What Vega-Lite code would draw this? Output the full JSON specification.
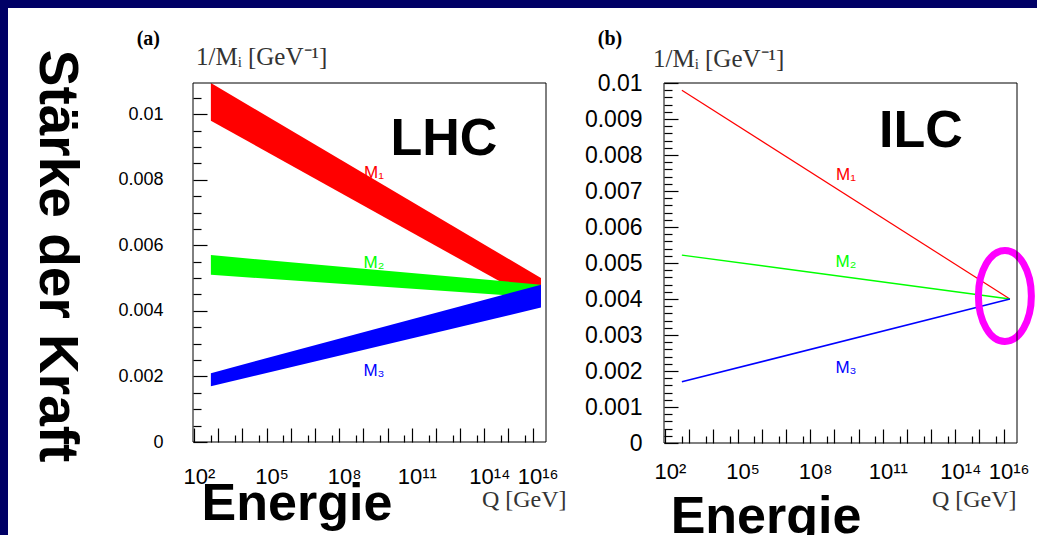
{
  "$schema": "https://vega.github.io/schema/vega-lite/v6.json",
  "autosize": "none",
  "width": 1029,
  "height": 527,
  "padding": {"left": 8, "top": 8, "right": 0, "bottom": 0},
  "background": "#000066",
  "config": {"view": {"fill": "white", "stroke": null}},
  "resolve": {"scale": {"x": "independent", "y": "independent"}},
  "layer": [
    {
      "resolve": {"scale": {"x": "independent", "y": "independent"}},
      "layer": [
        {
          "layer": [
            {
              "data": {"values": [
                {"series": "M1", "Q": 500, "lo": 0.0098, "hi": 0.01095},
                {"series": "M1", "Q": 2.2e16, "lo": 0.0042, "hi": 0.005},
                {"series": "M2", "Q": 500, "lo": 0.0051, "hi": 0.0057},
                {"series": "M2", "Q": 2.2e16, "lo": 0.0044, "hi": 0.0048},
                {"series": "M3", "Q": 500, "lo": 0.0017, "hi": 0.0021},
                {"series": "M3", "Q": 2.2e16, "lo": 0.0041, "hi": 0.0048}
              ]},
              "mark": {"type": "area", "opacity": 1},
              "encoding": {
                "x": {"field": "Q", "type": "quantitative",
                  "scale": {"type": "log", "domain": [91.2, 3.548e16], "range": [185, 538], "nice": false},
                  "axis": {"orient": "bottom", "offset": -93, "domain": false, "grid": false, "title": null, "zindex": 1,
                    "values": [100, 1000, 10000, 1e5, 1e6, 1e7, 1e8, 1e9, 1e10, 1e11, 1e12, 1e13, 1e14, 1e15, 1e16],
                    "tickSize": -14, "tickColor": "black", "tickWidth": 1.2,
                    "labelExpr": "round(log(datum.value)/LN10) == 2 ? '10²' : round(log(datum.value)/LN10) == 5 ? '10⁵' : round(log(datum.value)/LN10) == 8 ? '10⁸' : round(log(datum.value)/LN10) == 11 ? '10¹¹' : round(log(datum.value)/LN10) == 14 ? '10¹⁴' : round(log(datum.value)/LN10) == 16 ? '10¹⁶' : ''",
                    "labelFont": "Liberation Sans", "labelFontSize": 22, "labelColor": "black",
                    "labelBaseline": "alphabetic", "labelPadding": 55, "labelOffset": 5,
                    "labelFlush": false, "labelOverlap": false, "labelBound": false}},
                "y": {"field": "hi", "type": "quantitative",
                  "scale": {"domain": [0, 0.01095], "range": [434, 75], "nice": false, "zero": false},
                  "axis": {"orient": "left", "offset": -185, "domain": false, "grid": false, "title": null, "zindex": 1,
                    "values": [0, 0.002, 0.004, 0.006, 0.008, 0.01],
                    "tickSize": -14, "tickColor": "black", "tickWidth": 1.2,
                    "format": "~g",
                    "labelFont": "Liberation Sans", "labelFontSize": 18, "labelColor": "black",
                    "labelBaseline": "middle", "labelPadding": 44,
                    "labelFlush": false, "labelOverlap": false, "labelBound": false}},
                "y2": {"field": "lo"},
                "color": {"field": "series", "type": "nominal",
                  "scale": {"domain": ["M1", "M2", "M3"], "range": ["#ff0000", "#00ff00", "#0000ff"]}, "legend": null}
              }
            },
            {
              "data": {"values": [{}]},
              "mark": {"type": "text", "text": "Stärke der Kraft", "font": "Liberation Sans", "fontSize": 55, "fontWeight": "bold", "angle": 90, "align": "center", "baseline": "alphabetic", "fill": "black"},
              "encoding": {"x": {"datum": 4.35e-5}, "y": {"datum": 0.005671}}
            },
            {
              "data": {"values": [{}]},
              "mark": {"type": "text", "text": "(a)", "font": "Liberation Serif", "fontSize": 20, "fontWeight": "bold", "align": "center", "baseline": "alphabetic", "fill": "black"},
              "encoding": {"x": {"datum": 1.3}, "y": {"datum": 0.012104}}
            },
            {
              "data": {"values": [{}]},
              "mark": {"type": "text", "text": "1/Mᵢ [GeV⁻¹]", "font": "Liberation Serif", "fontSize": 25, "align": "left", "baseline": "alphabetic", "fill": "#333333"},
              "encoding": {"x": {"datum": 121}, "y": {"datum": 0.011494}}
            },
            {
              "data": {"values": [{}]},
              "mark": {"type": "text", "text": "LHC", "font": "Liberation Sans", "fontSize": 52, "fontWeight": "bold", "align": "center", "baseline": "alphabetic", "fill": "black"},
              "encoding": {"x": {"datum": 2.15e12}, "y": {"datum": 0.00875}}
            },
            {
              "data": {"values": [{}]},
              "mark": {"type": "text", "text": "M₁", "font": "Liberation Sans", "fontSize": 17, "align": "center", "baseline": "alphabetic", "fill": "#ff0000"},
              "encoding": {"x": {"datum": 2.75e9}, "y": {"datum": 0.00805}}
            },
            {
              "data": {"values": [{}]},
              "mark": {"type": "text", "text": "M₂", "font": "Liberation Sans", "fontSize": 17, "align": "center", "baseline": "alphabetic", "fill": "#00ff00"},
              "encoding": {"x": {"datum": 2.75e9}, "y": {"datum": 0.0053}}
            },
            {
              "data": {"values": [{}]},
              "mark": {"type": "text", "text": "M₃", "font": "Liberation Sans", "fontSize": 17, "align": "center", "baseline": "alphabetic", "fill": "#0000ff"},
              "encoding": {"x": {"datum": 2.75e9}, "y": {"datum": 0.00201}}
            },
            {
              "data": {"values": [{}]},
              "mark": {"type": "text", "text": "Q [GeV]", "font": "Liberation Serif", "fontSize": 24, "align": "left", "baseline": "alphabetic", "fill": "#333333"},
              "encoding": {"x": {"datum": 7.94e13}, "y": {"datum": -0.001982}}
            },
            {
              "data": {"values": [{}]},
              "mark": {"type": "text", "text": "Energie", "font": "Liberation Sans", "fontSize": 52, "fontWeight": "bold", "align": "center", "baseline": "alphabetic", "fill": "black"},
              "encoding": {"x": {"datum": 1.81e6}, "y": {"datum": -0.00239}}
            }
          ]
        },
        {
          "data": {"values": [{}]},
          "mark": {"type": "rect", "filled": false, "stroke": "black", "strokeWidth": 1},
          "encoding": {
            "x": {"datum": 91.2, "type": "quantitative",
              "scale": {"type": "log", "domain": [91.2, 3.548e16], "range": [185, 538], "nice": false},
              "axis": {"orient": "bottom", "offset": -93, "domain": false, "grid": false, "title": null, "labels": false, "zindex": 1,
                "values": [500, 5000, 50000, 5e5, 5e6, 5e7, 5e8, 5e9, 5e10, 5e11, 5e12, 5e13, 5e14, 5e15],
                "tickSize": -7, "tickColor": "black", "tickWidth": 1.2}},
            "x2": {"datum": 3.548e16},
            "y": {"datum": 0, "type": "quantitative",
              "scale": {"domain": [0, 0.01095], "range": [434, 75], "nice": false, "zero": false},
              "axis": {"orient": "left", "offset": -185, "domain": false, "grid": false, "title": null, "labels": false, "zindex": 1,
                "values": [0.0005, 0.001, 0.0015, 0.0025, 0.003, 0.0035, 0.0045, 0.005, 0.0055, 0.0065, 0.007, 0.0075, 0.0085, 0.009, 0.0095, 0.0105],
                "tickSize": -8, "tickColor": "black", "tickWidth": 1.2}},
            "y2": {"datum": 0.01095}
          }
        }
      ]
    },
    {
      "resolve": {"scale": {"x": "independent", "y": "independent"}},
      "layer": [
        {
          "layer": [
            {
              "data": {"values": [
                {"series": "M1", "Q": 500, "v": 0.0098},
                {"series": "M1", "Q": 1.8e16, "v": 0.004},
                {"series": "M2", "Q": 500, "v": 0.00522},
                {"series": "M2", "Q": 1.8e16, "v": 0.004},
                {"series": "M3", "Q": 500, "v": 0.0017},
                {"series": "M3", "Q": 1.8e16, "v": 0.004}
              ]},
              "mark": {"type": "line"},
              "encoding": {
                "x": {"field": "Q", "type": "quantitative",
                  "scale": {"type": "log", "domain": [91.2, 3.548e16], "range": [656, 1009], "nice": false},
                  "axis": {"orient": "bottom", "offset": -92, "domain": false, "grid": false, "title": null, "zindex": 1,
                    "values": [100, 1000, 10000, 1e5, 1e6, 1e7, 1e8, 1e9, 1e10, 1e11, 1e12, 1e13, 1e14, 1e15, 1e16],
                    "tickSize": -14, "tickColor": "black", "tickWidth": 1.2,
                    "labelExpr": "round(log(datum.value)/LN10) == 2 ? '10²' : round(log(datum.value)/LN10) == 5 ? '10⁵' : round(log(datum.value)/LN10) == 8 ? '10⁸' : round(log(datum.value)/LN10) == 11 ? '10¹¹' : round(log(datum.value)/LN10) == 14 ? '10¹⁴' : round(log(datum.value)/LN10) == 16 ? '10¹⁶' : ''",
                    "labelFont": "Liberation Sans", "labelFontSize": 22, "labelColor": "black",
                    "labelBaseline": "alphabetic", "labelPadding": 49, "labelOffset": 5,
                    "labelFlush": false, "labelOverlap": false, "labelBound": false}},
                "y": {"field": "v", "type": "quantitative",
                  "scale": {"domain": [0, 0.01], "range": [435, 75], "nice": false, "zero": false},
                  "axis": {"orient": "left", "offset": -656, "domain": false, "grid": false, "title": null, "zindex": 1,
                    "values": [0, 0.001, 0.002, 0.003, 0.004, 0.005, 0.006, 0.007, 0.008, 0.009, 0.01],
                    "tickSize": -14, "tickColor": "black", "tickWidth": 1.2,
                    "format": "~g",
                    "labelFont": "Liberation Sans", "labelFontSize": 23, "labelColor": "black",
                    "labelBaseline": "middle", "labelPadding": 36,
                    "labelFlush": false, "labelOverlap": false, "labelBound": false}},
                "color": {"field": "series", "type": "nominal",
                  "scale": {"domain": ["M1", "M2", "M3"], "range": ["#ff0000", "#00ff00", "#0000ff"]}, "legend": null},
                "strokeWidth": {"field": "series", "type": "ordinal",
                  "scale": {"domain": ["M1", "M2", "M3"], "range": [1.2, 1.6, 2.4]}, "legend": null}
              }
            },
            {
              "data": {"values": [{}]},
              "mark": {"type": "text", "text": "(b)", "font": "Liberation Serif", "fontSize": 20, "fontWeight": "bold", "align": "center", "baseline": "alphabetic", "fill": "black"},
              "encoding": {"x": {"datum": 0.536}, "y": {"datum": 0.011056}}
            },
            {
              "data": {"values": [{}]},
              "mark": {"type": "text", "text": "1/Mᵢ [GeV⁻¹]", "font": "Liberation Serif", "fontSize": 25, "align": "left", "baseline": "alphabetic", "fill": "#333333"},
              "encoding": {"x": {"datum": 32}, "y": {"datum": 0.010444}}
            },
            {
              "data": {"values": [{}]},
              "mark": {"type": "text", "text": "ILC", "font": "Liberation Sans", "fontSize": 52, "fontWeight": "bold", "align": "center", "baseline": "alphabetic", "fill": "black"},
              "encoding": {"x": {"datum": 3.8e12}, "y": {"datum": 0.008222}}
            },
            {
              "data": {"values": [{}]},
              "mark": {"type": "text", "text": "M₁", "font": "Liberation Sans", "fontSize": 17, "align": "center", "baseline": "alphabetic", "fill": "#ff0000"},
              "encoding": {"x": {"datum": 3.02e9}, "y": {"datum": 0.00731}}
            },
            {
              "data": {"values": [{}]},
              "mark": {"type": "text", "text": "M₂", "font": "Liberation Sans", "fontSize": 17, "align": "center", "baseline": "alphabetic", "fill": "#00ff00"},
              "encoding": {"x": {"datum": 3.02e9}, "y": {"datum": 0.00489}}
            },
            {
              "data": {"values": [{}]},
              "mark": {"type": "text", "text": "M₃", "font": "Liberation Sans", "fontSize": 17, "align": "center", "baseline": "alphabetic", "fill": "#0000ff"},
              "encoding": {"x": {"datum": 3.02e9}, "y": {"datum": 0.00194}}
            },
            {
              "data": {"values": [{}]},
              "mark": {"type": "text", "text": "Q [GeV]", "font": "Liberation Serif", "fontSize": 24, "align": "left", "baseline": "alphabetic", "fill": "#333333"},
              "encoding": {"x": {"datum": 1.08e13}, "y": {"datum": -0.001778}}
            },
            {
              "data": {"values": [{}]},
              "mark": {"type": "text", "text": "Energie", "font": "Liberation Sans", "fontSize": 52, "fontWeight": "bold", "align": "center", "baseline": "alphabetic", "fill": "black"},
              "encoding": {"x": {"datum": 1.5e6}, "y": {"datum": -0.0025}}
            },
            {
              "data": {"values": [{}]},
              "mark": {"type": "point", "shape": "M -0.582 0 A 0.582 1 0 1 0 0.582 0 A 0.582 1 0 1 0 -0.582 0 Z", "size": 8281, "filled": false, "stroke": "#ff00ff", "strokeWidth": 7, "opacity": 1},
              "encoding": {"x": {"datum": 1.12e16}, "y": {"datum": 0.004083}}
            }
          ]
        },
        {
          "data": {"values": [{}]},
          "mark": {"type": "rect", "filled": false, "stroke": "black", "strokeWidth": 1},
          "encoding": {
            "x": {"datum": 91.2, "type": "quantitative",
              "scale": {"type": "log", "domain": [91.2, 3.548e16], "range": [656, 1009], "nice": false},
              "axis": {"orient": "bottom", "offset": -92, "domain": false, "grid": false, "title": null, "labels": false, "zindex": 1,
                "values": [500, 5000, 50000, 5e5, 5e6, 5e7, 5e8, 5e9, 5e10, 5e11, 5e12, 5e13, 5e14, 5e15],
                "tickSize": -7, "tickColor": "black", "tickWidth": 1.2}},
            "x2": {"datum": 3.548e16},
            "y": {"datum": 0, "type": "quantitative",
              "scale": {"domain": [0, 0.01], "range": [435, 75], "nice": false, "zero": false},
              "axis": {"orient": "left", "offset": -656, "domain": false, "grid": false, "title": null, "labels": false, "zindex": 1,
                "values": [0.0002, 0.0004, 0.0006, 0.0008, 0.0012, 0.0014, 0.0016, 0.0018, 0.0022, 0.0024, 0.0026, 0.0028, 0.0032, 0.0034, 0.0036, 0.0038, 0.0042, 0.0044, 0.0046, 0.0048, 0.0052, 0.0054, 0.0056, 0.0058, 0.0062, 0.0064, 0.0066, 0.0068, 0.0072, 0.0074, 0.0076, 0.0078, 0.0082, 0.0084, 0.0086, 0.0088, 0.0092, 0.0094, 0.0096, 0.0098],
                "tickSize": -8, "tickColor": "black", "tickWidth": 1.2}},
            "y2": {"datum": 0.01}
          }
        }
      ]
    }
  ]
}
